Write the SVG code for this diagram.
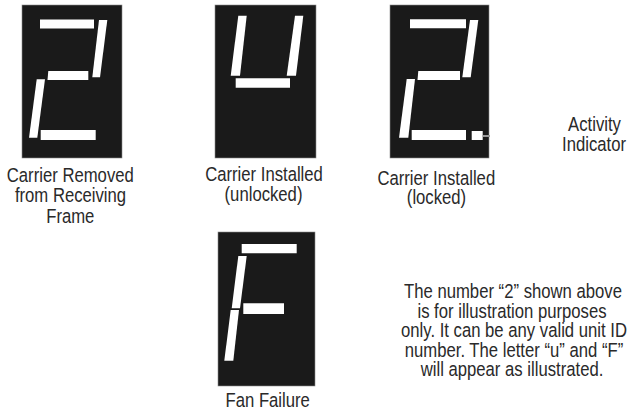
<svg xmlns="http://www.w3.org/2000/svg" width="632" height="411" viewBox="0 0 632 411">
<style>
.panel{fill:#1a1a1a;stroke:#8a8a8a;stroke-width:0.6}
.seg{fill:#ffffff}
.lbl{font-family:"Liberation Sans",Arial,sans-serif;font-size:19.5px;fill:#2a2a2a;text-anchor:middle}
.lead{stroke:#9a9a9a;stroke-width:2;fill:none}
</style>
<rect width="632" height="411" fill="#ffffff"/>
<g id="display-removed">
<rect class="panel" x="22" y="5" width="100" height="153"/>
<polygon class="seg" points="40,19.5 94,19.5 94,28.5 40,28.5"/>
<polygon class="seg" points="99,20 107.3,20 100,77.3 92.3,77.3"/>
<polygon class="seg" points="48.3,71 88.3,71 88.3,80 47.5,80"/>
<polygon class="seg" points="36.7,79.3 45,79.3 37.3,137.7 29,137.7"/>
<polygon class="seg" points="40.7,130 95.7,130 95.7,140 40.7,140"/>
<text class="lbl" transform="translate(70.3 181.5) scale(0.856 1)">Carrier Removed</text>
<text class="lbl" transform="translate(70.5 202) scale(0.856 1)">from Receiving</text>
<text class="lbl" transform="translate(70.3 222.5) scale(0.856 1)">Frame</text>
</g>
<g id="display-unlocked">
<rect class="panel" x="215" y="5" width="101" height="153"/>
<polygon class="seg" points="238.3,15.7 246.7,15.7 240,75.7 230.7,75.7"/>
<polygon class="seg" points="295,15.7 303.3,15.7 296,75.7 286.7,75.7"/>
<polygon class="seg" points="235.7,78.3 290,78.3 290,87.7 235.7,87.7"/>
<text class="lbl" transform="translate(264 181) scale(0.856 1)">Carrier Installed</text>
<text class="lbl" transform="translate(263.5 200.5) scale(0.856 1)">(unlocked)</text>
</g>
<g id="display-locked">
<rect class="panel" x="390" y="5" width="99" height="153"/>
<polygon class="seg" points="410,19.3 466,19.3 466,28.3 410,28.3"/>
<polygon class="seg" points="470,20 478.3,20 470.7,77.3 462.3,77.3"/>
<polygon class="seg" points="418.3,71 460,71 460,80 417.5,80"/>
<polygon class="seg" points="406.7,79 415,79 408.3,137.7 399,137.7"/>
<polygon class="seg" points="411.7,130 466,130 466,140 411.7,140"/>
<polygon class="seg" points="471.7,131 482.7,131 482.7,140 471.7,140"/>
<text class="lbl" transform="translate(436.3 184.5) scale(0.856 1)">Carrier Installed</text>
<text class="lbl" transform="translate(436.5 204) scale(0.856 1)">(locked)</text>
</g>
<g id="activity-indicator">
<text class="lbl" transform="translate(594.5 131) scale(0.856 1)">Activity</text>
<text class="lbl" transform="translate(594 150.5) scale(0.856 1)">Indicator</text>
</g>
<g id="display-fan">
<rect class="panel" x="218" y="232" width="97" height="154"/>
<polygon class="seg" points="241.7,244 296.7,244 296.7,253.3 241.7,253.3"/>
<polygon class="seg" points="238.3,256 246.7,256 240,308.3 231.7,308.3"/>
<polygon class="seg" points="243.3,303.3 284,303.3 284,314 243.3,314"/>
<polygon class="seg" points="230.7,310 239,310 233.3,360.7 224.3,360.7"/>
<text class="lbl" transform="translate(267.7 407) scale(0.856 1)">Fan Failure</text>
</g>
<g id="note">
<text class="lbl" transform="translate(513 298) scale(0.856 1)">The number “2” shown above</text>
<text class="lbl" transform="translate(512 317.5) scale(0.856 1)">is for illustration purposes</text>
<text class="lbl" transform="translate(514 337) scale(0.856 1)">only. It can be any valid unit ID</text>
<text class="lbl" transform="translate(514 356.5) scale(0.856 1)">number. The letter “u” and “F”</text>
<text class="lbl" transform="translate(512 376) scale(0.856 1)">will appear as illustrated.</text>
</g>
<g id="connectors">
<line class="lead" x1="482.7" y1="136" x2="490" y2="136"/>
</g>
</svg>
